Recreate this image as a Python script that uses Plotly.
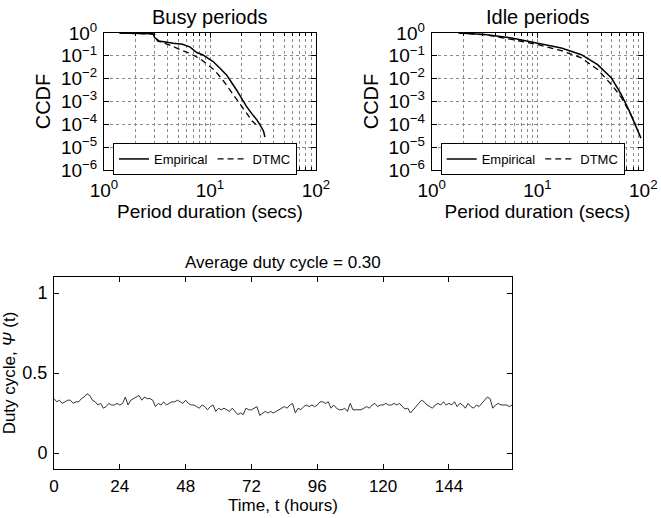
import plotly.graph_objects as go

# ---------------- data ----------------
busy_emp_x = [1.4, 2.0, 2.9, 3.0, 3.3, 4.5, 5.5, 6.5, 7.5, 8.5, 10.7, 12.5, 14.4, 17.8, 22.0, 25.0, 27.6, 30.7, 32.0, 33.0]
busy_emp_y = [1.0, 0.99, 0.93, 0.63, 0.45, 0.355, 0.32, 0.24, 0.14, 0.112, 0.056, 0.028, 0.014, 3.2e-3, 6.3e-4, 2.8e-4, 1.6e-4, 7.1e-5, 5.0e-5, 2.8e-5]

busy_dtmc_x = [1.4, 2.0, 3.0, 3.2, 4.0, 5.2, 6.5, 8.0, 9.5, 11.0, 13.4, 16.0, 19.5, 22.5, 25.0, 27.0]
busy_dtmc_y = [1.0, 0.98, 0.89, 0.45, 0.32, 0.19, 0.126, 0.076, 0.042, 0.024, 7.9e-3, 2.5e-3, 7.1e-4, 2.8e-4, 1.4e-4, 1.0e-4]

idle_emp_x = [1.8, 3.2, 5.7, 10.0, 16.8, 26.0, 37.0, 50.0, 62.0, 74.0, 86.0, 92.0, 95.0]
idle_emp_y = [1.0, 0.85, 0.60, 0.36, 0.22, 0.112, 0.041, 0.0107, 2.0e-3, 3.7e-4, 6.9e-5, 3.2e-5, 2.5e-5]

idle_dtmc_x = [1.8, 3.2, 5.7, 10.0, 16.8, 26.0, 37.0, 50.0, 62.0, 70.0, 78.0, 85.0]
idle_dtmc_y = [1.0, 0.83, 0.52, 0.31, 0.17, 0.081, 0.025, 5.5e-3, 1.5e-3, 5.6e-4, 2.2e-4, 9.0e-5]

duty_cycle = [
    0.34, 0.32, 0.33, 0.31, 0.32, 0.33, 0.33, 0.31, 0.32, 0.32, 0.34, 0.35,
    0.37, 0.36, 0.33, 0.32, 0.30, 0.31, 0.28, 0.29, 0.31, 0.30, 0.30, 0.31,
    0.30, 0.31, 0.35, 0.30, 0.33, 0.34, 0.35, 0.36, 0.33, 0.35, 0.34, 0.34,
    0.33, 0.29, 0.31, 0.30, 0.32, 0.30, 0.31, 0.32, 0.32, 0.33, 0.32, 0.31,
    0.33, 0.31, 0.30, 0.30, 0.29, 0.28, 0.30, 0.29, 0.27, 0.29, 0.30, 0.26,
    0.28, 0.27, 0.28, 0.27, 0.26, 0.28, 0.26, 0.24, 0.25, 0.24, 0.28, 0.27,
    0.27, 0.28, 0.29, 0.235, 0.25, 0.26, 0.25, 0.26, 0.25, 0.26, 0.27, 0.28,
    0.29, 0.28, 0.30, 0.31, 0.25, 0.28, 0.27, 0.29, 0.30, 0.29, 0.30, 0.29,
    0.30, 0.32, 0.32, 0.31, 0.32, 0.28, 0.30, 0.28, 0.27, 0.27, 0.28, 0.26,
    0.31, 0.27, 0.27, 0.27, 0.27, 0.28, 0.29, 0.28, 0.30, 0.31, 0.29, 0.30,
    0.30, 0.31, 0.30, 0.30, 0.31, 0.30, 0.31, 0.29, 0.275, 0.28, 0.25, 0.27,
    0.29, 0.31, 0.33, 0.32, 0.30, 0.29, 0.28, 0.30, 0.31, 0.30, 0.32, 0.30,
    0.31, 0.30, 0.32, 0.29, 0.31, 0.30, 0.28, 0.31, 0.29, 0.28, 0.30, 0.29,
    0.31, 0.33, 0.35, 0.34, 0.28, 0.30, 0.31, 0.30, 0.30, 0.30, 0.29, 0.30,
]
hours = list(range(len(duty_cycle)))

ccdf_x_ticks = [1, 10, 100]
ccdf_x_labels = ["10<sup>0</sup>", "10<sup>1</sup>", "10<sup>2</sup>"]
ccdf_x_minor = [2, 3, 4, 5, 6, 7, 8, 9, 20, 30, 40, 50, 60, 70, 80, 90]
ccdf_y_ticks = [1e-6, 1e-5, 1e-4, 1e-3, 1e-2, 1e-1, 1]
ccdf_y_labels = ["10<sup>−6</sup>", "10<sup>−5</sup>", "10<sup>−4</sup>", "10<sup>−3</sup>",
                 "10<sup>−2</sup>", "10<sup>−1</sup>", "10<sup>0</sup>"]
time_ticks = [0, 24, 48, 72, 96, 120, 144]
duty_ticks = [0, 0.5, 1]
duty_labels = ["0", "0.5", "1"]
duty_grid = [0, 1]

# ---------------- figure ----------------
W, H = 661, 518
FONT = "Liberation Sans, Arial, sans-serif"
GRID = "#8a8a8a"

fig = go.Figure()
emp_line = dict(color="black", width=1.5)
dtmc_line = dict(color="black", width=1.3, dash="6px,4px")

fig.add_trace(go.Scatter(x=busy_emp_x, y=busy_emp_y, mode="lines", name="Empirical",
                         line=emp_line, xaxis="x", yaxis="y", legend="legend"))
fig.add_trace(go.Scatter(x=busy_dtmc_x, y=busy_dtmc_y, mode="lines", name="DTMC",
                         line=dtmc_line, xaxis="x", yaxis="y", legend="legend"))
fig.add_trace(go.Scatter(x=idle_emp_x, y=idle_emp_y, mode="lines", name="Empirical",
                         line=emp_line, xaxis="x2", yaxis="y2", legend="legend2"))
fig.add_trace(go.Scatter(x=idle_dtmc_x, y=idle_dtmc_y, mode="lines", name="DTMC",
                         line=dtmc_line, xaxis="x2", yaxis="y2", legend="legend2"))
fig.add_trace(go.Scatter(x=hours, y=duty_cycle, mode="lines", showlegend=False,
                         line=dict(color="#333333", width=1), xaxis="x3", yaxis="y3"))


def log_x(domain, anchor):
    return dict(type="log", range=[0, 2], domain=domain, anchor=anchor, automargin=False,
                tickmode="array", tickvals=ccdf_x_ticks, ticktext=ccdf_x_labels,
                ticks="inside", ticklen=5, tickcolor="black", mirror="allticks",
                showline=True, linecolor="black", linewidth=1,
                showgrid=True, gridcolor=GRID, griddash="dot", gridwidth=1,
                minor=dict(tickmode="array", tickvals=ccdf_x_minor, ticks="inside", ticklen=3,
                           tickcolor="black", showgrid=True, gridcolor=GRID, griddash="dot"),
                tickfont=dict(family=FONT, size=19, color="black"),
                ticklabelstandoff=3,
                title=dict(text="Period duration (secs)", standoff=0,
                           font=dict(family=FONT, size=19, color="black")),
                zeroline=False)


def log_y(domain, anchor):
    return dict(type="log", range=[-6, 0], domain=domain, anchor=anchor, automargin=False,
                tickmode="array", tickvals=ccdf_y_ticks, ticktext=ccdf_y_labels,
                ticks="inside", ticklen=5, tickcolor="black", mirror="allticks",
                showline=True, linecolor="black", linewidth=1,
                showgrid=True, gridcolor=GRID, griddash="dot", gridwidth=1,
                tickfont=dict(family=FONT, size=19, color="black"),
                ticklabelstandoff=2,
                title=dict(text="CCDF", standoff=4,
                           font=dict(family=FONT, size=20, color="black")),
                zeroline=False)


top_y = [1 - 170 / H, 1 - 33 / H]
fig.update_layout(
    width=W, height=H,
    margin=dict(l=0, r=0, t=0, b=0, autoexpand=False),
    paper_bgcolor="white", plot_bgcolor="white",
    xaxis=log_x([104 / W, 316 / W], "y"),
    yaxis=log_y(top_y, "x"),
    xaxis2=log_x([431.7 / W, 643.3 / W], "y2"),
    yaxis2=log_y(top_y, "x2"),
    xaxis3=dict(range=[0, 167], domain=[54 / W, 512 / W], anchor="y3", automargin=False,
                tickmode="array", tickvals=time_ticks,
                ticks="inside", ticklen=5, tickcolor="black", mirror="allticks",
                showline=True, linecolor="black", linewidth=1, showgrid=False, zeroline=False,
                tickfont=dict(family=FONT, size=17, color="black"),
                ticklabelstandoff=2,
                title=dict(text="Time, t (hours)", standoff=1,
                           font=dict(family=FONT, size=17, color="black"))),
    yaxis3=dict(range=[-0.1, 1.1], domain=[1 - 469 / H, 1 - 277 / H], anchor="x3", automargin=False,
                tickmode="array", tickvals=duty_ticks, ticktext=duty_labels,
                ticks="inside", ticklen=5, tickcolor="black", mirror="allticks",
                showline=True, linecolor="black", linewidth=1, showgrid=False, zeroline=False,
                tickfont=dict(family=FONT, size=18, color="black"),
                ticklabelstandoff=2,
                title=dict(text="Duty cycle, <i>Ψ</i> (t)", standoff=2,
                           font=dict(family=FONT, size=17, color="black"))),
    yaxis4=dict(range=[-0.1, 1.1], overlaying="y3", anchor="x3", automargin=False,
                tickmode="array", tickvals=duty_grid, showticklabels=False, ticks="",
                showgrid=True, gridcolor=GRID, griddash="dot", gridwidth=1,
                zeroline=False, showline=False),
    legend=dict(orientation="h", x=113 / W, y=1 - 143 / H, xanchor="left", yanchor="top",
                bgcolor="white", bordercolor="black", borderwidth=1,
                font=dict(family=FONT, size=13, color="black"),
                itemwidth=30, tracegroupgap=0),
    legend2=dict(orientation="h", x=440.7 / W, y=1 - 143 / H, xanchor="left", yanchor="top",
                 bgcolor="white", bordercolor="black", borderwidth=1,
                 font=dict(family=FONT, size=13, color="black"),
                 itemwidth=30, tracegroupgap=0),
    annotations=[
        dict(text="Busy periods", x=(104 + 316) / 2 / W, y=1 - 17 / H, xref="paper", yref="paper",
             showarrow=False, xanchor="center", yanchor="middle",
             font=dict(family=FONT, size=20, color="black")),
        dict(text="Idle periods", x=(431.7 + 643.3) / 2 / W, y=1 - 17 / H, xref="paper", yref="paper",
             showarrow=False, xanchor="center", yanchor="middle",
             font=dict(family=FONT, size=20, color="black")),
        dict(text="Average duty cycle = 0.30", x=(54 + 512) / 2 / W, y=1 - 262 / H,
             xref="paper", yref="paper", showarrow=False, xanchor="center", yanchor="middle",
             font=dict(family=FONT, size=17, color="black")),
    ],
)

fig.write_html("out.html")
